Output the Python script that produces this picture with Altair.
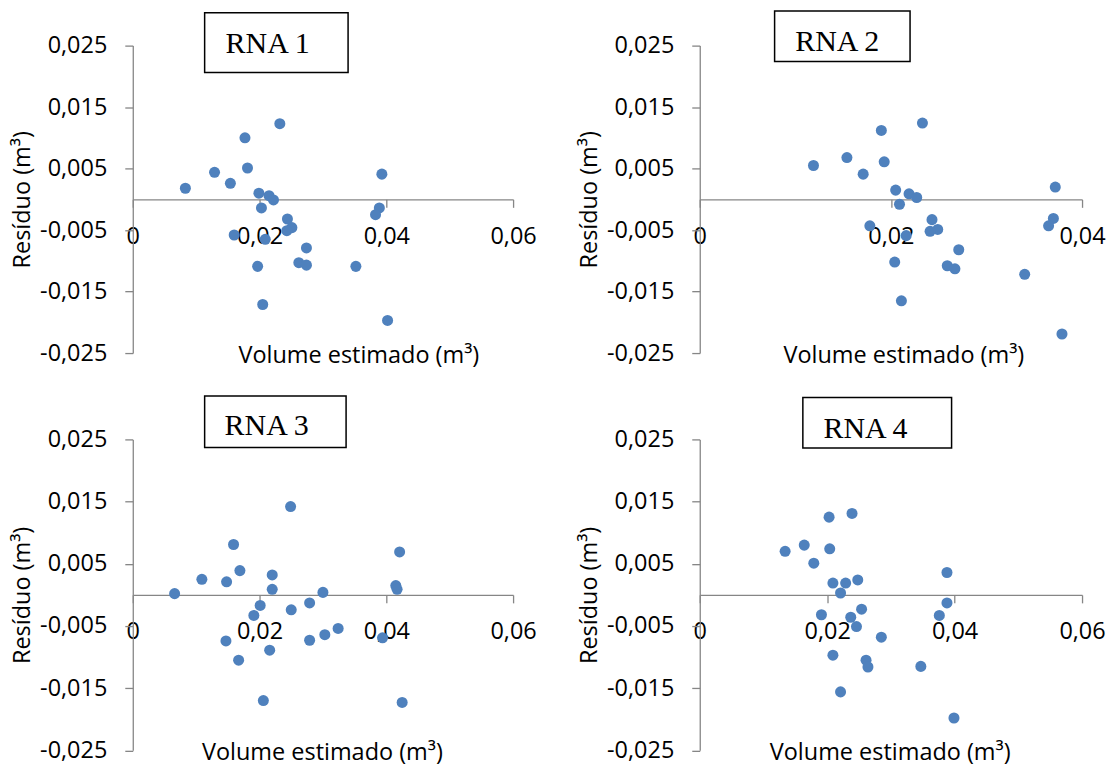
import altair as alt
import pandas as pd

# ---------------- data ----------------
titles = ["RNA 1", "RNA 2", "RNA 3", "RNA 4"]

rna1_x = [0.0083, 0.0129, 0.0154, 0.0177, 0.0181, 0.0232, 0.0199, 0.0215, 0.0222, 0.0203,
          0.0244, 0.0251, 0.0243, 0.0160, 0.0209, 0.0274, 0.0262, 0.0274, 0.0197, 0.0352,
          0.0205, 0.0402, 0.0393, 0.0389, 0.0383]
rna1_y = [0.0018, 0.0044, 0.0026, 0.0100, 0.0051, 0.0123, 0.0010, 0.0006, -0.0001, -0.0014,
          -0.0032, -0.0046, -0.0051, -0.0058, -0.0065, -0.0079, -0.0103, -0.0107, -0.0109, -0.0109,
          -0.0171, -0.0197, 0.0041, -0.0014, -0.0025]

rna2_x = [0.0119, 0.0154, 0.0171, 0.0190, 0.0193, 0.0233, 0.0205, 0.0219, 0.0227, 0.0209,
          0.0243, 0.0249, 0.0241, 0.0178, 0.0216, 0.0271, 0.0259, 0.0267, 0.0204, 0.0340,
          0.0211, 0.0379, 0.0372, 0.0370, 0.0365]
rna2_y = [0.0055, 0.0068, 0.0041, 0.0112, 0.0061, 0.0124, 0.0015, 0.0009, 0.0003, -0.0008,
          -0.0033, -0.0049, -0.0052, -0.0043, -0.0059, -0.0082, -0.0108, -0.0113, -0.0102, -0.0122,
          -0.0165, -0.0219, 0.0020, -0.0031, -0.0043]

rna3_x = [0.0066, 0.0109, 0.0148, 0.0159, 0.0169, 0.0220, 0.0220, 0.0249, 0.0300, 0.0201,
          0.0191, 0.0250, 0.0279, 0.0324, 0.0303, 0.0279, 0.0147, 0.0216, 0.0167, 0.0206,
          0.0425, 0.0421, 0.0415, 0.0417, 0.0394]
rna3_y = [0.0002, 0.0025, 0.0021, 0.0081, 0.0039, 0.0032, 0.0009, 0.0142, 0.0004, -0.0017,
          -0.0033, -0.0024, -0.0013, -0.0054, -0.0064, -0.0073, -0.0074, -0.0089, -0.0105, -0.0170,
          -0.0173, 0.0069, 0.0015, 0.0009, -0.0069]

rna4_x = [0.0134, 0.0164, 0.0179, 0.0203, 0.0204, 0.0239, 0.0209, 0.0229, 0.0248, 0.0221,
          0.0191, 0.0237, 0.0254, 0.0246, 0.0285, 0.0209, 0.0261, 0.0264, 0.0347, 0.0221,
          0.0399, 0.0388, 0.0388, 0.0376]
rna4_y = [0.0070, 0.0080, 0.0051, 0.0125, 0.0074, 0.0131, 0.0019, 0.0019, 0.0024, 0.0003,
          -0.0032, -0.0036, -0.0023, -0.0051, -0.0068, -0.0097, -0.0105, -0.0116, -0.0115, -0.0156,
          -0.0198, 0.0036, -0.0013, -0.0033]

y_ticks = [0.025, 0.015, 0.005, -0.005, -0.015, -0.025]
x_ticks_wide = [0, 0.02, 0.04, 0.06]
x_ticks_narrow = [0, 0.02, 0.04]

x_title = "Volume estimado (m³)"
y_title = "Resíduo (m³)"

# ---------------- styling / layout ----------------
BLUE = "#4F81BD"
GREY = "#868686"
FONT = "Open Sans"
FS = 23.5

layout = [
    # width, height, x max, x ticks, x-title x, box (x1, x2, y1, y2), text (x, baseline y)
    dict(w=381, h=308, xmax=0.06, xt=x_ticks_wide, tx=226, box=(72, 215.7, -33, 27), txt=(93, 7)),
    dict(w=383, h=308, xmax=0.04, xt=x_ticks_narrow, tx=204, box=(75, 210.7, -34.7, 16), txt=(95.7, 5.3)),
    dict(w=381, h=311.5, xmax=0.06, xt=x_ticks_wide, tx=189.5, box=(72, 213.7, -43.5, 8.1), txt=(92, -4.2)),
    dict(w=383, h=311.5, xmax=0.06, xt=x_ticks_wide, tx=190.3, box=(103.3, 252.3, -41.9, 8.5), txt=(124, -1.5)),
]

series = [(rna1_x, rna1_y), (rna2_x, rna2_y), (rna3_x, rna3_y), (rna4_x, rna4_y)]

x_label = "datum.value == 0 ? '0' : replace(format(datum.value, '.2f'), '.', ',')"
y_label = "(datum.value < 0 ? '-' : '') + replace(format(abs(datum.value), '.3f'), '.', ',')"


def panel(i):
    xs, ys = series[i]
    L = layout[i]
    df = pd.DataFrame({"volume": xs, "residuo": ys})
    pts = alt.Chart(df).mark_circle(size=122, opacity=1, color=BLUE).encode(
        x=alt.X("volume:Q",
                scale=alt.Scale(domain=[0, L["xmax"]], nice=False, zero=False),
                axis=alt.Axis(values=L["xt"], labelExpr=x_label, offset=-L["h"] / 2,
                              labelPadding=17, title=x_title,
                              titleX=L["tx"], titleY=L["h"] / 2 + 9.5,
                              titleAlign="center", titleBaseline="alphabetic")),
        y=alt.Y("residuo:Q",
                scale=alt.Scale(domain=[-0.025, 0.025], nice=False, zero=False),
                axis=alt.Axis(values=y_ticks, labelExpr=y_label, labelPadding=18,
                              title=y_title, titlePadding=5)),
    )
    deco = pd.DataFrame({"k": [0]})
    bx1, bx2, by1, by2 = L["box"]
    box = alt.Chart(deco).mark_rect(fill="white", stroke="black", strokeWidth=1.5).encode(
        x=alt.value(bx1), x2=alt.value(bx2), y=alt.value(by1), y2=alt.value(by2))
    tx, ty = L["txt"]
    txt = alt.Chart(deco).mark_text(text=titles[i], align="left", baseline="alphabetic",
                                    font="Liberation Serif", fontSize=30, color="black").encode(
        x=alt.value(tx), y=alt.value(ty))
    layers = [pts, box, txt]
    if i == 0:
        # invisible layout anchor fixing the page's top-left corner
        anchor = alt.Chart(deco).mark_rect(opacity=0).encode(
            x=alt.value(-125), x2=alt.value(-124), y=alt.value(-36.7), y2=alt.value(-35.7))
        layers.append(anchor)
    return alt.layer(*layers).properties(width=L["w"], height=L["h"])


chart = alt.concat(
    panel(0), panel(1), panel(2), panel(3),
    columns=2,
    spacing=alt.RowColnumber(row=86.5, column=187),
    bounds="flush",
).properties(
    padding=0
).configure_view(
    stroke=None
).configure_axis(
    grid=False,
    domainColor=GREY, tickColor=GREY, domainWidth=1.3, tickWidth=1.3, tickSize=8,
    labelFont=FONT, labelFontSize=FS, labelColor="black",
    labelFlush=False, labelOverlap=False,
    titleFont=FONT, titleFontSize=FS, titleFontWeight="normal", titleColor="black",
)

chart.save("out.html", embed_options={"renderer": "svg", "actions": False})
